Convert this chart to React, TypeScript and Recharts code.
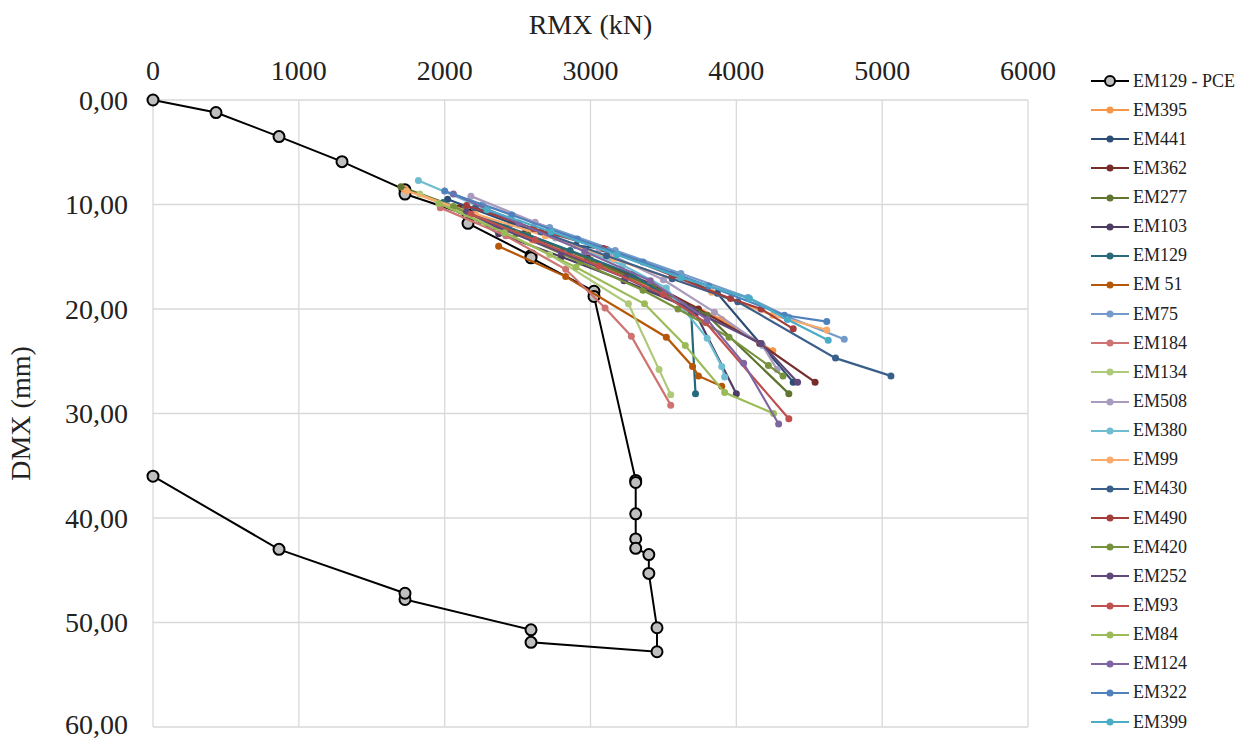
import React from "react";
import { ScatterChart, Scatter, XAxis, YAxis, CartesianGrid } from "recharts";

// axis ticks
const xTicks = [0, 1000, 2000, 3000, 4000, 5000, 6000];
const yTicks = [0, 10, 20, 30, 40, 50, 60];

// [RMX kN, DMX mm]
const pce: [number, number][] = [
  [0, 0], [432, 1.2], [864, 3.5], [1296, 5.9], [1728, 8.6], [1728, 9.0], [2160, 11.0], [2160, 11.8],
  [2592, 14.9], [2592, 15.1], [3024, 18.3], [3024, 18.8], [3310, 36.4], [3310, 36.6], [3310, 39.6],
  [3310, 42.0], [3310, 42.9], [3400, 43.5], [3400, 45.3], [3456, 50.5], [3456, 52.8], [2592, 51.9],
  [2592, 50.7], [1728, 47.8], [1728, 47.2], [864, 43.0], [0, 36.0],
];
const em395: [number, number][] = [[1720, 8.5], [2160, 10.9], [2600, 13.4], [3050, 15.8], [3480, 18.2], [3900, 21.0], [4250, 24.0]];
const em441: [number, number][] = [[2020, 9.5], [2460, 11.8], [2900, 13.9], [3110, 14.3], [3560, 16.6], [3870, 18.5], [4390, 27.0]];
const em362: [number, number][] = [[2100, 10.3], [2540, 12.8], [2980, 15.1], [3420, 17.6], [3740, 20.0], [4160, 23.3], [4540, 27.0]];
const em277: [number, number][] = [[1700, 8.3], [2130, 10.5], [2570, 12.9], [3000, 15.3], [3430, 17.9], [3800, 20.6], [4360, 28.1]];
const em103: [number, number][] = [[2110, 10.6], [2370, 12.8], [2800, 15.0], [3230, 17.3], [3660, 19.8], [3720, 20.4], [4000, 28.1]];
const em129: [number, number][] = [[1990, 9.8], [2420, 12.1], [2860, 14.4], [3290, 16.7], [3690, 20.3], [3720, 28.1]];
const em51: [number, number][] = [[2370, 14.0], [2830, 16.9], [3520, 22.7], [3700, 25.5], [3740, 26.4], [3900, 27.4]];
const em75: [number, number][] = [[2260, 10.0], [2720, 12.2], [3170, 14.4], [3620, 16.6], [4080, 18.9], [4360, 20.8], [4740, 22.9]];
const em184: [number, number][] = [[1970, 10.3], [2420, 13.0], [2830, 16.2], [3100, 19.9], [3280, 22.6], [3550, 29.2]];
const em134: [number, number][] = [[1830, 9.0], [2270, 11.7], [2720, 14.8], [3260, 19.5], [3470, 25.8], [3550, 28.2]];
const em508: [number, number][] = [[2180, 9.2], [2620, 11.7], [3060, 14.3], [3500, 17.2], [3850, 20.3], [4180, 23.5], [4280, 25.8]];
const em380: [number, number][] = [[1820, 7.7], [2290, 10.5], [2760, 13.2], [3220, 15.8], [3520, 18.0], [3800, 22.8], [3900, 25.5], [3920, 26.5]];
const em99: [number, number][] = [[1740, 8.7], [2210, 10.9], [2690, 13.0], [3160, 15.2], [3830, 18.4], [4250, 20.6], [4620, 22.0]];
const em430: [number, number][] = [[2210, 10.3], [2660, 12.6], [3110, 14.9], [3560, 17.1], [4010, 19.3], [4680, 24.7], [5060, 26.4]];
const em490: [number, number][] = [[2150, 10.1], [2610, 12.3], [3090, 14.2], [3560, 16.8], [3960, 19.0], [4170, 20.0], [4390, 21.9]];
const em420: [number, number][] = [[2060, 10.2], [2490, 12.8], [2930, 15.5], [3360, 18.2], [3600, 20.0], [3950, 22.7], [4220, 25.4], [4320, 26.4]];
const em252: [number, number][] = [[2150, 10.7], [2350, 12.1], [2800, 14.6], [3240, 17.0], [3700, 20.1], [4170, 23.3], [4420, 27.0]];
const em93: [number, number][] = [[2180, 10.9], [2620, 13.4], [3060, 15.9], [3500, 18.6], [3790, 21.3], [4360, 30.5]];
const em84: [number, number][] = [[1960, 9.9], [2410, 12.7], [2900, 16.0], [3370, 19.5], [3650, 23.5], [3920, 28.0], [4255, 30.0]];
const em124: [number, number][] = [[2060, 9.0], [2510, 11.8], [2960, 14.5], [3410, 17.3], [3800, 21.0], [4050, 25.2], [4290, 31.0]];
const em322: [number, number][] = [[2000, 8.7], [2460, 11.0], [2910, 13.3], [3360, 15.5], [3810, 17.8], [4330, 20.6], [4620, 21.2]];
const em399: [number, number][] = [[2290, 10.5], [2730, 12.6], [3180, 14.8], [3620, 17.0], [4090, 19.0], [4350, 21.0], [4630, 23.0]];

const series = [
  { name: "EM395", color: "#F79646", points: em395 },
  { name: "EM441", color: "#2C4D75", points: em441 },
  { name: "EM362", color: "#772C2A", points: em362 },
  { name: "EM277", color: "#5F7530", points: em277 },
  { name: "EM103", color: "#4D3B62", points: em103 },
  { name: "EM129", color: "#276A7C", points: em129 },
  { name: "EM 51", color: "#B65708", points: em51 },
  { name: "EM75", color: "#729ACA", points: em75 },
  { name: "EM184", color: "#CD7371", points: em184 },
  { name: "EM134", color: "#AFC97A", points: em134 },
  { name: "EM508", color: "#A99BBD", points: em508 },
  { name: "EM380", color: "#6FBDD1", points: em380 },
  { name: "EM99", color: "#F9AB6B", points: em99 },
  { name: "EM430", color: "#3A5F8B", points: em430 },
  { name: "EM490", color: "#A33D3A", points: em490 },
  { name: "EM420", color: "#76923C", points: em420 },
  { name: "EM252", color: "#5F497A", points: em252 },
  { name: "EM93", color: "#C0504D", points: em93 },
  { name: "EM84", color: "#9BBB59", points: em84 },
  { name: "EM124", color: "#8064A2", points: em124 },
  { name: "EM322", color: "#4F81BD", points: em322 },
  { name: "EM399", color: "#4BACC6", points: em399 },
];

const toData = (pts: [number, number][]) => pts.map(([x, y]) => ({ x, y }));
const fmt = (v: number) => v.toFixed(2).replace(".", ",");
const font = "'Liberation Serif', 'Times New Roman', serif";

function LegendBox() {
  const rows = [{ name: "EM129 - PCE", color: "#000", pce: true }, ...series.map((s) => ({ ...s, pce: false }))];
  return (
    <div style={{ position: "absolute", left: 1088, top: 0, width: 160, fontFamily: font, fontSize: 18, color: "#222" }}>
      {rows.map((r, i) => (
        <div key={r.name} style={{ position: "absolute", top: 81 + i * 29.14 - 11, height: 22, display: "flex", alignItems: "center", whiteSpace: "nowrap" }}>
          <svg width={44} height={22}>
            <line x1={3} y1={11} x2={41} y2={11} stroke={r.color} strokeWidth={2} />
            {r.pce ? (
              <circle cx={22} cy={11} r={5} fill="#BFBFBF" stroke="#000" strokeWidth={2} />
            ) : (
              <circle cx={22} cy={11} r={3.5} fill={r.color} />
            )}
          </svg>
          <span style={{ marginLeft: 1 }}>{r.name}</span>
        </div>
      ))}
    </div>
  );
}

export default function App() {
  return (
    <div style={{ position: "absolute", left: 0, top: 0, width: 1248, height: 740, background: "#fff" }}>
      <ScatterChart width={1248} height={740} margin={{ top: 0, right: 220, bottom: 13, left: 0 }}>
        <CartesianGrid stroke="#D9D9D9" strokeWidth={1.3} />
        <XAxis
          type="number"
          dataKey="x"
          orientation="top"
          height={100}
          domain={[0, 6000]}
          ticks={xTicks}
          axisLine={false}
          tickLine={false}
          tickSize={0}
          tickMargin={20}
          tick={{ fill: "#222", fontSize: 28, fontFamily: font }}
          label={{ value: "RMX (kN)", position: "insideTop", offset: 14, fill: "#222", fontSize: 28, fontFamily: font }}
        />
        <YAxis
          type="number"
          dataKey="y"
          reversed
          width={153}
          domain={[0, 60]}
          ticks={yTicks}
          tickFormatter={fmt}
          axisLine={false}
          tickLine={false}
          tickSize={0}
          tickMargin={25}
          tick={{ fill: "#222", fontSize: 28, fontFamily: font }}
          label={{ value: "DMX (mm)", angle: -90, position: "insideLeft", offset: 28, dx: -8, fill: "#222", fontSize: 28, fontFamily: font, style: { textAnchor: "middle" } }}
        />
        <Scatter
          name="EM129 - PCE"
          data={toData(pce)}
          line={{ stroke: "#000", strokeWidth: 2 }}
          isAnimationActive={false}
          shape={(p: any) => <circle cx={p.cx} cy={p.cy} r={5.5} fill="#BFBFBF" stroke="#000" strokeWidth={2} />}
        />
        {series.map((s) => (
          <Scatter
            key={s.name}
            name={s.name}
            data={toData(s.points)}
            fill={s.color}
            line={{ stroke: s.color, strokeWidth: 2.2 }}
            isAnimationActive={false}
            shape={(p: any) => <circle cx={p.cx} cy={p.cy} r={3.5} fill={s.color} />}
          />
        ))}
      </ScatterChart>
      <LegendBox />
    </div>
  );
}
